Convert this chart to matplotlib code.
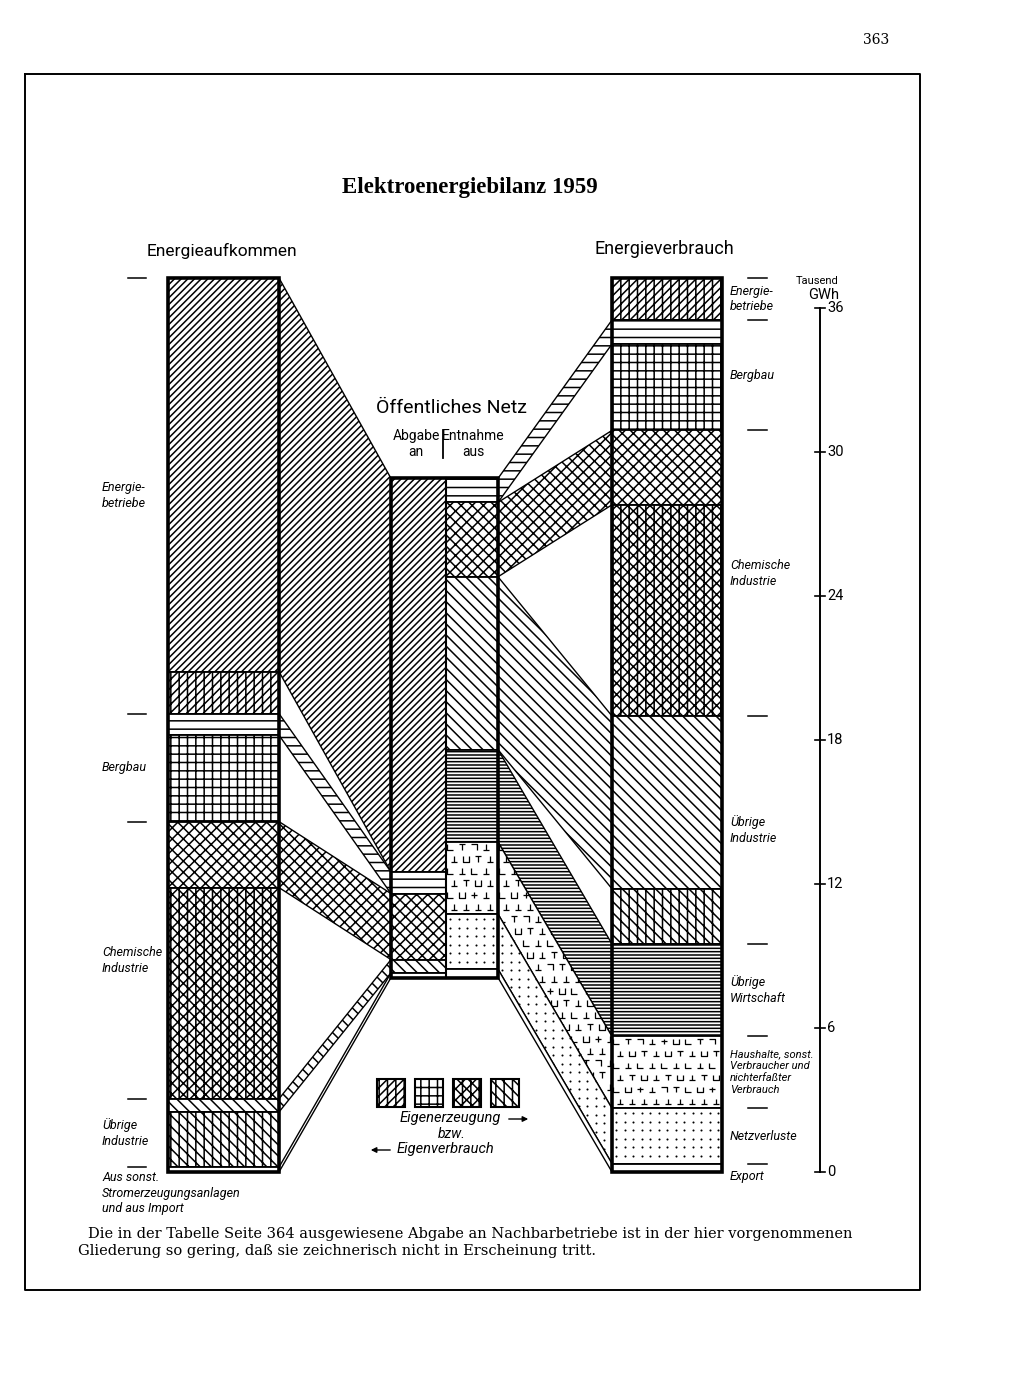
import numpy as np
import matplotlib.pyplot as plt
from matplotlib.patches import Polygon, Rectangle
from matplotlib.path import Path

plt.rcParams['hatch.linewidth'] = 1.1
plt.rcParams['hatch.color'] = 'black'
SANS = 'Roboto'

# Werte in Tausend GWh
sectors = ["Energie-\nbetriebe", "Bergbau", "Chemische\nIndustrie", "Übrige\nIndustrie"]
own_use = [1.75, 3.6, 8.8, 2.3]        # Eigenerzeugung = Eigenverbrauch
to_grid = [16.4, 0.9, 2.75, 0.55]      # Abgabe an öffentliches Netz
other_supply = 0.2                     # aus sonst. Anlagen und Import
from_grid_sec = [0.0, 1.0, 3.1, 7.2]   # Entnahme aus dem Netz je Sektor
others = ["Übrige\nWirtschaft", "Haushalte, sonst.\nVerbraucher und\nnichterfaßter\nVerbrauch",
          "Netzverluste", "Export"]
from_grid_oth = [3.85, 3.0, 2.3, 0.35]
scale_ticks = [0, 6, 12, 18, 24, 30, 36]

grid_hatch = ['/////', '--', 'xxx', '\\\\\\']
own_hatch = ['////||', '++', 'xxx||', '\\\\\\||']
oth_hatch = ['-----', 'HH', 'DOTS', '']

# layout (pixels)
XL = (168, 279)
XM = (391, 446, 498)
XR = (612, 722)
Y0, PX = 1172, 24
mid_base = 8.1


def py(ypx):
    return (Y0 - ypx) / PX


fig = plt.figure(figsize=(10.24, 13.98), dpi=100)
ax = fig.add_axes([0, 0, 1, 1])
ax.set_xlim(0, 1024)
ax.set_ylim(py(1398), py(0))
ax.axis('off')

textured = {'HH': [], 'DOTS': []}


def block(x0, x1, y0, h, hatch, lw=1.3):
    p = Rectangle((x0, y0), x1 - x0, h, facecolor='white', edgecolor='black',
                  hatch=None if hatch in ('', 'HH', 'DOTS') else hatch, lw=lw, zorder=3)
    ax.add_patch(p)
    if hatch in textured:
        textured[hatch].append(p)
    return p


def flow(xa, a0, a1, xb, b0, b1, hatch):
    p = Polygon([(xa, a0), (xa, a1), (xb, b1), (xb, b0)], closed=True,
                facecolor='white', edgecolor='black', lw=1.0,
                hatch=None if hatch in ('', 'HH', 'DOTS') else hatch, zorder=2)
    ax.add_patch(p)
    if hatch in textured:
        textured[hatch].append(p)


total = sum(own_use) + sum(to_grid) + other_supply

# left column
y = total
left_grid, left_bounds = [], [total]
for i in range(4):
    block(XL[0], XL[1], y - to_grid[i], to_grid[i], grid_hatch[i])
    left_grid.append((y - to_grid[i], y))
    y -= to_grid[i]
    block(XL[0], XL[1], y - own_use[i], own_use[i], own_hatch[i])
    y -= own_use[i]
    left_bounds.append(y)
block(XL[0], XL[1], 0, other_supply, '')
left_grid.append((0, other_supply))
ax.add_patch(Rectangle((XL[0], 0), XL[1] - XL[0], total, fill=False, lw=2.6, zorder=4))

# middle column: Abgabe an
mid_top = mid_base + sum(to_grid) + other_supply
y = mid_top
for i, v in enumerate(to_grid + [other_supply]):
    h = (grid_hatch + [''])[i]
    block(XM[0], XM[1], y - v, v, h)
    flow(XL[1], left_grid[i][0], left_grid[i][1], XM[0], y - v, y, h)
    y -= v

# right column
y = total
right_grid, right_bounds = [], [total]
block(XR[0], XR[1], y - own_use[0], own_use[0], own_hatch[0])
y -= own_use[0]
right_bounds.append(y)
for i in range(1, 4):
    block(XR[0], XR[1], y - from_grid_sec[i], from_grid_sec[i], grid_hatch[i])
    right_grid.append((y - from_grid_sec[i], y, grid_hatch[i]))
    y -= from_grid_sec[i]
    block(XR[0], XR[1], y - own_use[i], own_use[i], own_hatch[i])
    y -= own_use[i]
    right_bounds.append(y)
for v, h in zip(from_grid_oth, oth_hatch):
    block(XR[0], XR[1], y - v, v, h)
    right_grid.append((y - v, y, h))
    y -= v
    right_bounds.append(y)
ax.add_patch(Rectangle((XR[0], 0), XR[1] - XR[0], total, fill=False, lw=2.6, zorder=4))

# middle column: Entnahme aus
y = mid_top
for (r0, r1, h) in right_grid:
    v = r1 - r0
    block(XM[1], XM[2], y - v, v, h)
    flow(XM[2], y - v, y, XR[0], r0, r1, h)
    y -= v
ax.add_patch(Rectangle((XM[0], mid_base), XM[2] - XM[0], mid_top - mid_base,
                       fill=False, lw=2.6, zorder=4))
ax.plot([XM[1], XM[1]], [mid_base, mid_top], color='black', lw=1.5, zorder=4)

# textures: Haushalte glyphs and Netzverluste dots
glyphs = [
    Path([(-1, 1), (-1, -1), (1, -1)], [1, 2, 2]),
    Path([(-1, 1), (1, 1), (0, 1), (0, -1)], [1, 2, 1, 2]),
    Path([(-1, 1), (1, 1), (1, -1)], [1, 2, 2]),
    Path([(-1, -1), (1, -1), (0, -1), (0, 1)], [1, 2, 1, 2]),
    Path([(-1, 0), (1, 0), (0, 1), (0, -1)], [1, 2, 1, 2]),
    Path([(-1, 1), (-1, -1), (1, -1), (1, 1)], [1, 2, 2, 2]),
]


def grid_points(p, step):
    ext = p.get_path().transformed(p.get_patch_transform()).get_extents()
    xs = np.arange(ext.x0 + 4, ext.x1, step)
    ys = np.arange(Y0 - ext.y1 * PX + 5, Y0 - ext.y0 * PX, step)
    return xs, ys


for p in textured['HH']:
    xs, ys = grid_points(p, 12)
    pts = [[] for _ in glyphs]
    for ix, xx in enumerate(xs):
        for iy, yy in enumerate(ys):
            k = (ix * 7 + iy * 3 + ix * iy) % len(glyphs)
            pts[k].append((xx + (iy % 2) * 4, py(yy)))
    for k, g in enumerate(glyphs):
        if pts[k]:
            arr = np.array(pts[k])
            sc = ax.scatter(arr[:, 0], arr[:, 1], marker=g, s=16, facecolors='none',
                            edgecolors='black', linewidths=0.9, zorder=3.5)
            sc.set_clip_path(p)

for p in textured['DOTS']:
    xs, ys = grid_points(p, 8.5)
    gx, gy = np.meshgrid(xs, ys)
    sc = ax.scatter(gx.ravel(), py(gy.ravel()), s=2.2, color='black', linewidths=0,
                    zorder=3.5)
    sc.set_clip_path(p)

# dashes marking sector boundaries
for b in left_bounds:
    ax.plot([128, 146], [b, b], color='black', lw=1.1)
for b in right_bounds[:-1]:
    ax.plot([748, 767], [b, b], color='black', lw=1.1)

# labels
lab = dict(fontfamily=SANS, fontstyle='italic', fontsize=9, linespacing=1.3, va='center')
for i, name in enumerate(sectors):
    ax.text(102, (left_bounds[i] + left_bounds[i + 1]) / 2, name, ha='left', **lab)
ax.text(102, py(1171), "Aus sonst.\nStromerzeugungsanlagen\nund aus Import", ha='left',
        fontfamily=SANS, fontstyle='italic', fontsize=9, linespacing=1.25, va='top')
for i, name in enumerate(sectors):
    yc = (right_bounds[i] + right_bounds[i + 1]) / 2
    ax.text(730, yc, name, ha='left', **lab)
for j, name in enumerate(others):
    yc = (right_bounds[4 + j] + right_bounds[5 + j]) / 2
    if name == "Export":
        yc -= 0.35
    fs = 8 if j == 1 else 9
    ax.text(730, yc, name, ha='left', fontfamily=SANS, fontstyle='italic', fontsize=fs,
            linespacing=1.25, va='center')

# scale
ax.plot([820, 820], [scale_ticks[0], scale_ticks[-1]], color='black', lw=1.4)
for t in scale_ticks:
    ax.plot([815, 825], [t, t], color='black', lw=1.2)
    ax.text(827, t, str(t), ha='left', va='center', fontfamily=SANS, fontsize=10.5)
ax.text(839, py(281), "Tausend", ha='right', va='center', fontfamily=SANS, fontsize=8)
ax.text(839, py(295), "GWh", ha='right', va='center', fontfamily=SANS, fontsize=10.5)

# headings
ax.text(470, py(187), "Elektroenergiebilanz 1959", ha='center', va='center',
        fontfamily='Liberation Serif', fontweight='bold', fontsize=16.5)
ax.text(222, py(251), "Energieaufkommen", ha='center', va='center', fontfamily=SANS, fontsize=12.5)
ax.text(664, py(249), "Energieverbrauch", ha='center', va='center', fontfamily=SANS, fontsize=13)
ax.text(451, py(408), "Öffentliches Netz", ha='center', va='center', fontfamily=SANS, fontsize=14)
ax.text(416, py(444), "Abgabe\nan", ha='center', va='center', fontfamily=SANS, fontsize=10,
        linespacing=1.1)
ax.text(473, py(444), "Entnahme\naus", ha='center', va='center', fontfamily=SANS, fontsize=10,
        linespacing=1.1)
ax.plot([443, 443], [py(430), py(458)], color='black', lw=1.3)

# legend of own generation / consumption
for k, xk in enumerate([377, 415, 453, 491]):
    ax.add_patch(Rectangle((xk, py(1107)), 28, 28 / PX, facecolor='white', edgecolor='black',
                           hatch=own_hatch[k], lw=1.5, zorder=3))
ax.text(450, py(1118), "Eigenerzeugung", ha='center', va='center', fontfamily=SANS,
        fontstyle='italic', fontsize=10.5)
ax.text(452, py(1134), "bzw.", ha='center', va='center', fontfamily=SANS,
        fontstyle='italic', fontsize=10)
ax.text(445, py(1149), "Eigenverbrauch", ha='center', va='center', fontfamily=SANS,
        fontstyle='italic', fontsize=10.5)
arr = dict(arrowstyle='-|>', lw=1.0, color='black', mutation_scale=8)
ax.annotate('', xy=(531, py(1119)), xytext=(506, py(1119)), arrowprops=arr)
ax.annotate('', xy=(368, py(1150)), xytext=(393, py(1150)), arrowprops=arr)

# page frame, page number and footnote
ax.plot([25, 920, 920, 25, 25], [py(74), py(74), py(1290), py(1290), py(74)],
        color='black', lw=1.4)
ax.text(876, py(40), "363", ha='center', va='center', fontfamily='DejaVu Serif', fontsize=10)
ax.text(88, py(1234), "Die in der Tabelle Seite 364 ausgewiesene Abgabe an Nachbarbetriebe "
        "ist in der hier vorgenommenen", ha='left', va='center', fontfamily='DejaVu Serif',
        fontsize=10.5)
ax.text(78, py(1251), "Gliederung so gering, daß sie zeichnerisch nicht in Erscheinung tritt.",
        ha='left', va='center', fontfamily='DejaVu Serif', fontsize=10.5)

fig.savefig('out.png', dpi=100, facecolor='white')
